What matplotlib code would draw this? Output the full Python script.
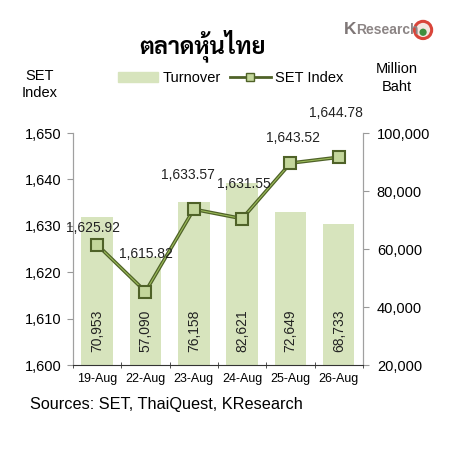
import numpy as np
import matplotlib
matplotlib.use("Agg")
import matplotlib.pyplot as plt
from matplotlib.patches import Circle, Rectangle
from matplotlib.lines import Line2D

plt.rcParams["font.family"] = ["Liberation Sans", "DejaVu Sans"]

dates = ["19-Aug", "22-Aug", "23-Aug", "24-Aug", "25-Aug", "26-Aug"]
set_index = [1625.92, 1615.82, 1633.57, 1631.55, 1643.52, 1644.78]
turnover = [70953, 57090, 76158, 82621, 72649, 68733]

BAR_COLOR = "#d7e4bd"
LINE_COLOR = "#4f6228"
MARKER_FILL = "#c3d69b"

fig = plt.figure(figsize=(4.52, 4.54), dpi=100)
ax = fig.add_axes([0.1615, 0.196, 0.6415, 0.511])
ax2 = ax.twinx()

x = np.arange(len(dates))

# bars on the right axis, line on the left axis (drawn on top)
ax2.bar(x, turnover, width=0.65, color=BAR_COLOR, zorder=1)
ax2.set_ylim(20000, 100000)
ax2.set_yticks(np.arange(20000, 100001, 20000))
ax2.set_yticklabels([f"{v:,}" for v in range(20000, 100001, 20000)])

for xi, v in zip(x, turnover):
    ax2.text(xi, 31700, f"{v:,}", rotation=90, ha="center", va="center",
             fontsize=10, color="#222222")

ax.set_zorder(ax2.get_zorder() + 1)
ax.patch.set_visible(False)
ax.plot(x, set_index, color=LINE_COLOR, lw=2.6, zorder=3)
ax.plot(x, set_index, color="#9bbb59", lw=0.8, zorder=3)
ax.plot(x, set_index, ls="none", marker="s", ms=9, mfc=MARKER_FILL,
        mec=LINE_COLOR, mew=1.5, zorder=4)
ax.set_ylim(1600, 1650)
ax.set_xlim(-0.5, 5.5)
ax.set_yticks(np.arange(1600, 1651, 10))
ax.set_yticklabels([f"{v:,}" for v in range(1600, 1651, 10)])

# label offsets (points) above each marker
offs = [(-3, 12), (0, 27), (-4, 25), (1, 25), (2, 18), (-2, 32)]
for xi, v, (dx, dy) in zip(x, set_index, offs):
    ax.annotate(f"{v:,.2f}", (xi, v), xytext=(dx, dy), textcoords="offset points",
                ha="center", va="center", fontsize=10, color="#222222")

ax.set_xticks(x)
ax.set_xticklabels(dates, fontsize=9)
ax.set_xticks(np.arange(-0.5, 6, 1), minor=True)
ax.tick_params(axis="x", which="major", length=0, pad=6)
ax.tick_params(axis="x", which="minor", length=5, direction="inout", color="#333333")
ax.tick_params(axis="y", labelsize=10.5, length=4, color="#999999", pad=4)
ax2.tick_params(axis="y", labelsize=10.5, length=4, color="#999999", pad=6)

for a in (ax, ax2):
    a.spines["top"].set_visible(False)
    a.spines["left"].set_color("#a0a0a0")
    a.spines["right"].set_color("#a0a0a0")
    a.spines["bottom"].set_color("#333333")
ax2.spines["bottom"].set_visible(False)

# axis titles
fig.text(0.088, 0.814, "SET\nIndex", ha="center", va="center", fontsize=10.5,
         linespacing=1.35)
fig.text(0.878, 0.829, "Million\nBaht", ha="center", va="center", fontsize=10.5,
         linespacing=1.35)

# legend
h_bar = Rectangle((0, 0), 1, 1, color=BAR_COLOR)
h_line = Line2D([], [], color=LINE_COLOR, lw=2, marker="s", ms=6,
                mfc=MARKER_FILL, mec=LINE_COLOR)
fig.legend([h_bar, h_line], ["Turnover", "SET Index"], loc="center",
           bbox_to_anchor=(0.51, 0.828), ncol=2, frameon=False, fontsize=10.5,
           handlelength=2.8, handletextpad=0.3, columnspacing=0.6)

# title
fig.text(0.447, 0.9, "ตลาดหุ้นไทย", ha="center", va="center", fontsize=17,
         fontweight="bold", family=["Sarabun", "DejaVu Sans"])

# logo
fig.text(0.760, 0.935, "K", ha="left", va="center", fontsize=12.5,
         fontweight="bold", color="#7f7777")
fig.text(0.787, 0.933, "Research", ha="left", va="center", fontsize=10,
         fontweight="bold", color="#8c8585")
fig.patches.append(Circle((0.936, 0.934), 0.019, transform=fig.transFigure,
                          facecolor="#f4e6e0", edgecolor="#d9453a", lw=2.2))
fig.patches.append(Circle((0.936, 0.929), 0.008, transform=fig.transFigure,
                          facecolor="#3f8f3f", edgecolor="none"))

fig.text(0.067, 0.110, "Sources: SET, ThaiQuest, KResearch", ha="left",
         va="center", fontsize=11.7)

fig.savefig("out.png", dpi=100)
